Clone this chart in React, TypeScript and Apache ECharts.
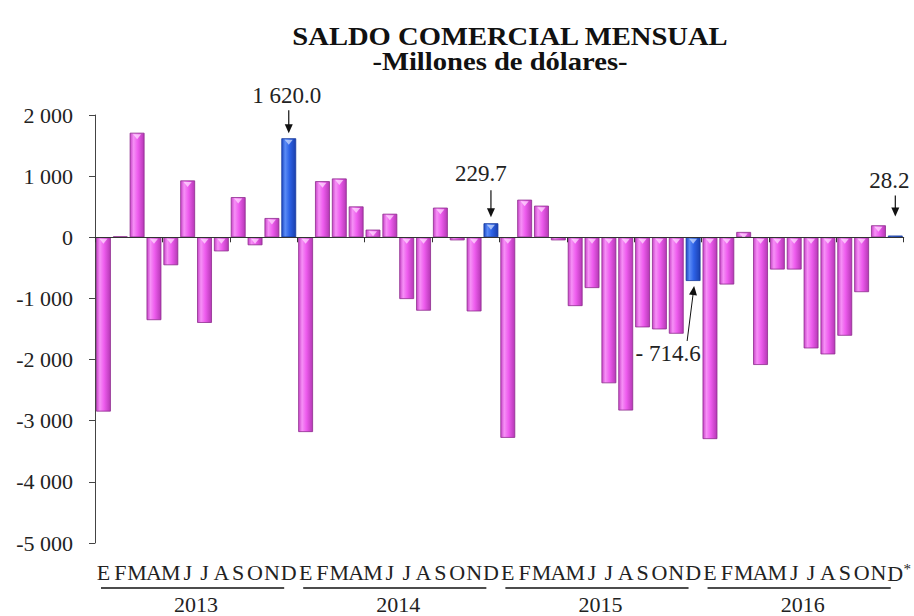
import React, { useEffect, useRef } from "react";
import * as echarts from "echarts";

const monthLetters = ["E", "F", "M", "A", "M", "J", "J", "A", "S", "O", "N", "D"];
const years = ["2013", "2014", "2015", "2016"];
const y2013 = [-2850, 15, 1710, -1355, -457, 930, -1400, -230, 657, -130, 315, 1620.0];
const y2014 = [-3185, 918, 962, 505, 125, 385, -1010, -1200, 485, -50, -1212, 229.7];
const y2015 = [-3280, 615, 517, -50, -1125, -830, -2387, -2833, -1473, -1506, -1577, -714.6];
const y2016 = [-3300, -772, 87, -2088, -527, -527, -1817, -1915, -1610, -897, 196, 28.2];
const yMin = -5000;
const yMax = 2000;
const yInterval = 1000;

const FONT = "'Liberation Serif', 'Times New Roman', serif";

const fmtThousands = (n: number, decimals = 0) => {
  const s = Math.abs(n).toFixed(decimals);
  const [intPart, dec] = s.split(".");
  const withSp = intPart.replace(/\B(?=(\d{3})+(?!\d))/g, " ");
  return withSp + (dec ? "." + dec : "");
};

export default function App() {
  const ref = useRef<HTMLDivElement>(null);
  useEffect(() => {
    if (!ref.current) return;
    const chart = echarts.init(ref.current, null, { renderer: "svg" });
    const yearData = [y2013, y2014, y2015, y2016];
    const categories: string[] = [];
    const values: number[] = [];
    yearData.forEach((arr, yi) => {
      arr.forEach((v, mi) => {
        categories.push(years[yi] + "-" + (mi + 1));
        values.push(v);
      });
    });
    const pinkGrad = new echarts.graphic.LinearGradient(0, 0, 1, 0, [
      { offset: 0, color: "#c844c8" },
      { offset: 0.25, color: "#f690f6" },
      { offset: 0.55, color: "#ee5cee" },
      { offset: 1, color: "#b538b5" },
    ]);
    const blueGrad = new echarts.graphic.LinearGradient(0, 0, 1, 0, [
      { offset: 0, color: "#1c49c4" },
      { offset: 0.25, color: "#5b8cf6" },
      { offset: 0.55, color: "#2d62e6" },
      { offset: 1, color: "#1a3fae" },
    ]);
    const barData = values.map((v, i) => {
      const isDec = i % 12 === 11;
      return {
        value: v,
        itemStyle: {
          color: isDec ? blueGrad : pinkGrad,
          borderColor: isDec ? "#163a9e" : "#8e2c8e",
          borderWidth: 0.8,
        },
      };
    });
    const capData = values
      .map((v, i) => ({ v, i }))
      .filter((d) => Math.abs(d.v) > 50)
      .map((d) => ({
        value: [d.i, Math.max(d.v, 0)],
        itemStyle: { color: d.i % 12 === 11 ? "rgba(210,225,255,0.9)" : "rgba(255,225,255,0.9)" },
      }));

    const lastIdx = categories.length - 1;
    chart.setOption({
      animation: false,
      backgroundColor: "#ffffff",
      grid: { left: 95, right: 10, top: 115, bottom: 73, containLabel: false },
      xAxis: [
        {
          type: "category",
          data: categories,
          axisLine: { onZero: true, lineStyle: { color: "#333", width: 1 } },
          axisTick: { show: true, length: 5, lineStyle: { color: "#333" } },
          axisLabel: { show: false },
          z: 10,
        },
        {
          type: "category",
          data: categories,
          position: "bottom",
          axisLine: { show: false, onZero: false },
          axisTick: { show: false },
          axisLabel: {
            interval: 0,
            margin: 18,
            color: "#222",
            fontFamily: FONT,
            fontSize: 22,
            formatter: (_: string, idx: number) => {
              const l = monthLetters[idx % 12];
              return idx === lastIdx ? "{p|}{a|" + l + "}{s|*}" : l;
            },
            rich: {
              p: { width: 8, fontSize: 15 },
              a: { fontFamily: FONT, fontSize: 22, color: "#222" },
              s: { fontFamily: FONT, fontSize: 15, color: "#222", width: 8, verticalAlign: "top", padding: [0, 0, 9, 0] },
            },
          },
        },
        {
          type: "category",
          data: years,
          position: "bottom",
          offset: 32,
          axisLine: { show: false, onZero: false },
          axisTick: { show: false },
          axisLabel: { interval: 0, margin: 18, color: "#222", fontFamily: FONT, fontSize: 22 },
        },
      ],
      yAxis: {
        type: "value",
        min: yMin,
        max: yMax,
        interval: yInterval,
        splitLine: { show: false },
        axisLine: { show: true, lineStyle: { color: "#444", width: 1 } },
        axisTick: { show: true, length: 6, lineStyle: { color: "#444" } },
        axisLabel: {
          margin: 22,
          color: "#222",
          fontFamily: FONT,
          fontSize: 22,
          formatter: (v: number) => (v === 0 ? "0" : (v < 0 ? "-" : "") + fmtThousands(v)),
        },
      },
      series: [
        {
          type: "bar",
          data: barData,
          barWidth: "88%",
          xAxisIndex: 0,
          z: 2,
        },
        {
          type: "scatter",
          data: capData,
          xAxisIndex: 0,
          symbol: "triangle",
          symbolRotate: 180,
          symbolSize: [8, 5],
          symbolOffset: [0, 4],
          z: 5,
          silent: true,
        },
      ],
    });

    const annots = [
      { idx: 11, dx: -2, textDy: -43, arrowTop: -28, arrowTip: -5 },
      { idx: 23, dx: -10, textDy: -50, arrowTop: -33, arrowTip: -6 },
      { idx: 47, dx: -6, textDy: -55, arrowTop: -40, arrowTip: -19 },
    ];
    const graphics: any[] = [
      {
        type: "text",
        x: 510,
        y: 36,
        scaleX: 1.1,
        style: { text: "SALDO COMERCIAL MENSUAL", fontFamily: FONT, fontWeight: "bold", fontSize: 26, fill: "#111", textAlign: "center", textVerticalAlign: "middle" },
      },
      {
        type: "text",
        x: 500,
        y: 61,
        scaleX: 1.1,
        style: { text: "-Millones de dólares-", fontFamily: FONT, fontWeight: "bold", fontSize: 26, fill: "#111", textAlign: "center", textVerticalAlign: "middle" },
      },
    ];
    const arrowHead = (x: number, y: number, ang: number) => {
      const len = 9, w = 4;
      const bx = x - len * Math.cos(ang), by = y - len * Math.sin(ang);
      const px = -Math.sin(ang) * w, py = Math.cos(ang) * w;
      return {
        type: "polygon",
        shape: { points: [[x, y], [bx + px, by + py], [bx - px, by - py]] },
        style: { fill: "#111" },
      };
    };
    annots.forEach((a) => {
      const v = values[a.idx];
      const p = chart.convertToPixel({ xAxisIndex: 0, yAxisIndex: 0 }, [a.idx, v]) as number[];
      const x = p[0];
      const top = p[1];
      graphics.push({
        type: "text",
        x: x + a.dx,
        y: top + a.textDy,
        style: { text: fmtThousands(v, 1), fontFamily: FONT, fontSize: 23, fill: "#222", textAlign: "center", textVerticalAlign: "middle" },
      });
      graphics.push({
        type: "line",
        shape: { x1: x, y1: top + a.arrowTop, x2: x, y2: top + a.arrowTip - 6 },
        style: { stroke: "#111", lineWidth: 1.2 },
      });
      graphics.push(arrowHead(x, top + a.arrowTip, Math.PI / 2));
    });
    // negative annotation (December 2015)
    {
      const idx = 35;
      const v = values[idx];
      const p = chart.convertToPixel({ xAxisIndex: 0, yAxisIndex: 0 }, [idx, v]) as number[];
      const x = p[0];
      const bottom = p[1];
      graphics.push({
        type: "text",
        x: x - 25,
        y: bottom + 73,
        style: { text: "- " + fmtThousands(v, 1), fontFamily: FONT, fontSize: 23, fill: "#222", textAlign: "center", textVerticalAlign: "middle" },
      });
      const sx = x - 6, sy = bottom + 60;
      const tx = x + 1, ty = bottom + 5;
      const ang = Math.atan2(ty - sy, tx - sx);
      graphics.push({
        type: "line",
        shape: { x1: sx, y1: sy, x2: tx - 6 * Math.cos(ang), y2: ty - 6 * Math.sin(ang) },
        style: { stroke: "#111", lineWidth: 1 },
      });
      graphics.push(arrowHead(tx, ty, ang));
    }
    // year underlines
    years.forEach((_, yi) => {
      const first = chart.convertToPixel({ xAxisIndex: 0 }, yi * 12) as number;
      const last = chart.convertToPixel({ xAxisIndex: 0 }, yi * 12 + 11) as number;
      const half = (last - first) / 22;
      graphics.push({
        type: "line",
        shape: { x1: first - half + 6, y1: 588, x2: last + half - 13, y2: 588 },
        style: { stroke: "#111", lineWidth: 1.5 },
      });
    });
    chart.setOption({ graphic: graphics });

    return () => chart.dispose();
  }, []);
  return <div ref={ref} style={{ position: "fixed", left: 0, top: 0, width: 914, height: 616, background: "#fff" }} />;
}
